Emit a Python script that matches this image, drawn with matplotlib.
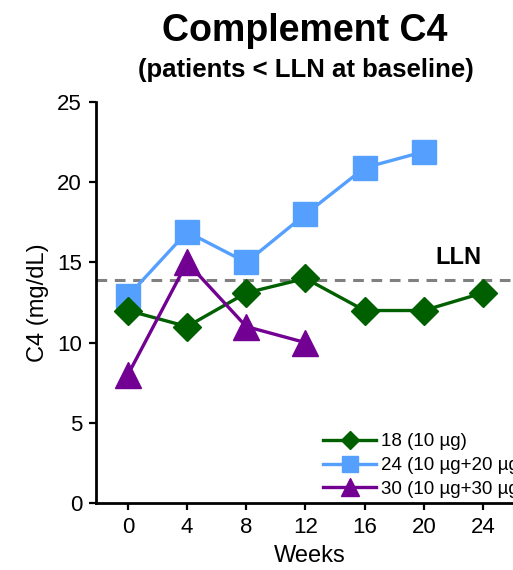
import matplotlib
matplotlib.use("Agg")
import matplotlib.pyplot as plt

plt.rcParams['font.family'] = ['Liberation Sans', 'DejaVu Sans']

weeks = [0, 4, 8, 12, 16, 20, 24]
g18_weeks = [0, 4, 8, 12, 16, 20, 24]
g18 = [12.0, 11.0, 13.1, 14.0, 12.0, 12.0, 13.1]
g24_weeks = [0, 4, 8, 12, 16, 20]
g24 = [12.9, 16.9, 15.0, 18.0, 20.9, 21.9]
g30_weeks = [0, 4, 8, 12]
g30 = [8.0, 15.0, 11.0, 10.0]
lln = 13.9
labels = ["18 (10 µg)", "24 (10 µg+20 µg)", "30 (10 µg+30 µg)"]
yticks = [0, 5, 10, 15, 20, 25]

W, H = 513, 570
fig = plt.figure(figsize=(W/100, H/100), dpi=100)
left = 96/W
bottom = 1 - 503/H
height = (503-102)/H
ppw = 355/24
xmin, xmax = -2.16, 26.8
width = (xmax - xmin)*ppw/W
ax = fig.add_axes([left, bottom, width, height])

ax.axhline(lln, color='#808080', lw=2.2, ls=(0, (3.5, 2.5)), zorder=1)
ax.plot(g18_weeks, g18, color='#006000', lw=2.4, marker='D', ms=14, label=labels[0], zorder=3)
ax.plot(g24_weeks, g24, color='#55A0FF', lw=2.4, marker='s', ms=17, label=labels[1], zorder=2)
ax.plot(g30_weeks, g30, color='#720092', lw=2.4, marker='^', ms=19, label=labels[2], zorder=4)

ax.text(20.8, 15.3, "LLN", fontsize=17, fontweight='bold', ha='left', va='center')

ax.set_xlim(xmin, xmax)
ax.set_ylim(0, 25)
ax.set_xticks(weeks)
ax.set_yticks(yticks)
ax.tick_params(labelsize=16, length=5, width=1.6, direction='out', pad=5)
for s in ['top', 'right']:
    ax.spines[s].set_visible(False)
for s in ['left', 'bottom']:
    ax.spines[s].set_linewidth(2)
ax.set_xlabel("Weeks", fontsize=17, labelpad=5)
ax.set_ylabel("C4 (mg/dL)", fontsize=17, labelpad=6)

fig.text(305/W, 1-31/H, "Complement C4", fontsize=27, fontweight='bold', ha='center', va='center')
fig.text(306/W, 1-70/H, "(patients < LLN at baseline)", fontsize=18.5, fontweight='bold', ha='center', va='center')

leg = ax.legend(loc='upper left', bbox_to_anchor=(314/W, 1-424/H), bbox_transform=fig.transFigure,
                frameon=False, fontsize=13.5, markerscale=0.65, handlelength=2.8,
                handletextpad=0.25, labelspacing=0.35, borderpad=0)

fig.savefig("out.png", dpi=100)
